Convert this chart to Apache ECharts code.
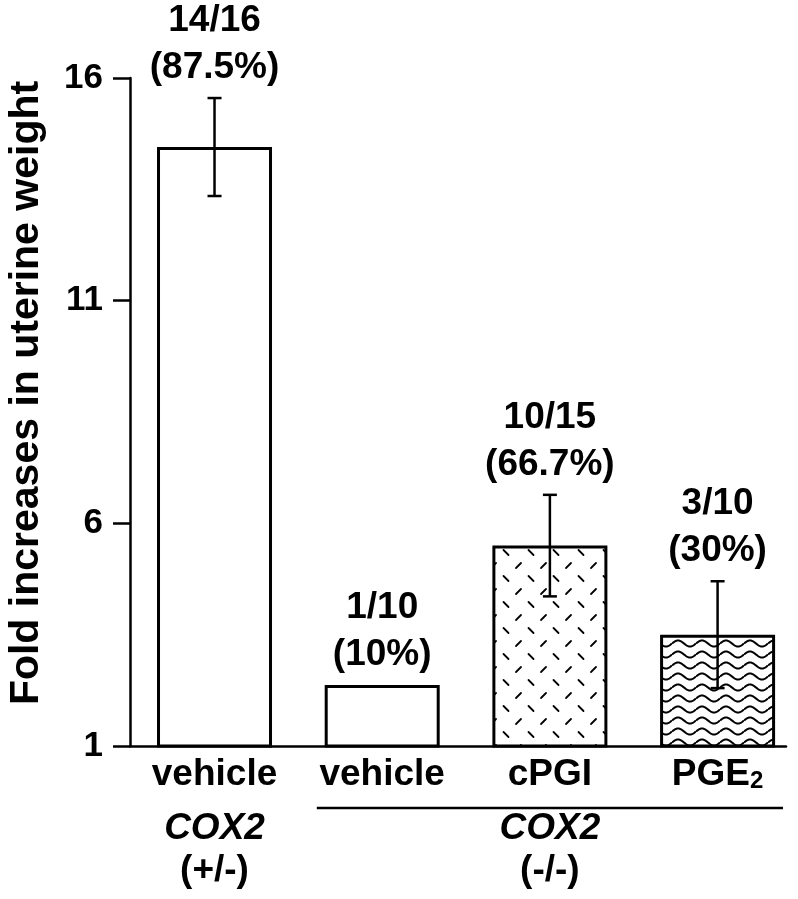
<!DOCTYPE html>
<html>
<head>
<meta charset="utf-8">
<script src="https://cdn.jsdelivr.net/npm/echarts@6/dist/echarts.min.js"></script>
<style>
html,body{margin:0;padding:0;background:#fff;}
#chart{width:798px;height:899px;}
</style>
</head>
<body>
<div id="chart"></div>
<script>
// ---- data ----
const categories = ['vehicle', 'vehicle', 'cPGI', 'PGE2'];
const means = [14.45, 2.37, 5.5, 3.5];
const errors = [1.1, null, 1.14, 1.2];
const counts = ['14/16', '1/10', '10/15', '3/10'];
const percents = ['(87.5%)', '(10%)', '(66.7%)', '(30%)'];
const groupPositions = [0, 2];
const groupLabels = ['(+/-)', '(-/-)'];
const groupGene = 'COX2';
const yTicks = [1, 6, 11, 16];
const yTitle = 'Fold increases in uterine weight';

const FONT = '"Liberation Sans", Arial, Helvetica, sans-serif';

function dashPattern() {
  const c = document.createElement('canvas');
  c.width = 25; c.height = 26;
  const g = c.getContext('2d');
  g.fillStyle = '#fff'; g.fillRect(0, 0, c.width, c.height);
  g.strokeStyle = '#000'; g.lineWidth = 1.8; g.lineCap = 'round';
  g.beginPath(); g.moveTo(3.5, 4); g.lineTo(8.5, 9); g.stroke();
  g.beginPath(); g.moveTo(16, 22); g.lineTo(21, 17); g.stroke();
  return c;
}
function wavePattern() {
  const c = document.createElement('canvas');
  c.width = 24; c.height = 11;
  const g = c.getContext('2d');
  g.fillStyle = '#fff'; g.fillRect(0, 0, c.width, c.height);
  g.strokeStyle = '#000'; g.lineWidth = 2;
  g.beginPath();
  for (let x = 0; x <= 24; x += 0.5) {
    const y = 5.5 - 3 * Math.sin(2 * Math.PI * x / 24);
    if (x === 0) g.moveTo(x, y); else g.lineTo(x, y);
  }
  g.stroke();
  return c;
}
const fills = ['#fff', '#fff',
  { image: dashPattern(), repeat: 'repeat' },
  { image: wavePattern(), repeat: 'repeat' }];

const chart = echarts.init(document.getElementById('chart'));

const X_MIN = -0.504, X_MAX = 3.408;

const option = {
  backgroundColor: '#fff',
  animation: false,
  grid: { left: 130, top: 78, width: 656, bottom: 153, containLabel: false, outerBoundsMode: 'none' },
  xAxis: [{
    type: 'value', min: X_MIN, max: X_MAX,
    axisLine: { show: true, onZero: false, lineStyle: { color: '#000', width: 2.5 } },
    axisTick: { show: false },
    splitLine: { show: false },
    axisLabel: {
      customValues: [0, 1, 2, 3],
      margin: 10,
      formatter: v => categories[Math.round(v)] === 'PGE2' ? '{n|PGE}{s|2}' : '{n|' + categories[Math.round(v)] + '}',
      rich: {
        n: { fontFamily: FONT, fontWeight: 'bold', fontSize: 37, color: '#000', lineHeight: 37 },
        s: { fontFamily: FONT, fontWeight: 'bold', fontSize: 24, color: '#000', lineHeight: 37, verticalAlign: 'bottom' }
      }
    }
  }, {
    type: 'value', min: X_MIN, max: X_MAX, position: 'bottom',
    axisLine: { show: false, onZero: false }, axisTick: { show: false }, splitLine: { show: false },
    axisLabel: {
      customValues: groupPositions,
      margin: 62,
      formatter: v => '{g|' + groupGene + '}\n{p|' + groupLabels[groupPositions.indexOf(Math.round(v))] + '}',
      rich: {
        g: { fontFamily: FONT, fontWeight: 'bold', fontStyle: 'italic', fontSize: 37, color: '#000', lineHeight: 42 },
        p: { fontFamily: FONT, fontWeight: 'bold', fontSize: 37, color: '#000', lineHeight: 42 }
      }
    }
  }],
  yAxis: {
    type: 'value', min: 1, max: 16, interval: 5,
    name: yTitle, nameLocation: 'middle', nameGap: 83, nameRotate: 90,
    nameTextStyle: { fontFamily: FONT, fontWeight: 'bold', fontSize: 41, color: '#000', padding: [0, 0, 0, 38] },
    axisLine: { show: true, onZero: false, lineStyle: { color: '#000', width: 2.5 } },
    axisTick: { show: true, inside: false, length: 17, lineStyle: { color: '#000', width: 2.5 } },
    splitLine: { show: false },
    axisLabel: { margin: 27, fontFamily: FONT, fontWeight: 'bold', fontSize: 35, color: '#000',
      formatter: v => yTicks.includes(v) ? String(v) : '' }
  },
  series: [{
    type: 'bar',
    xAxisIndex: 0,
    barWidth: 115,
    data: means.map((v, i) => ({ value: [i, v], itemStyle: { color: fills[i] } })),
    itemStyle: { borderColor: '#000', borderWidth: 3 },
    z: 2
  }, {
    type: 'custom',
    xAxisIndex: 0,
    z: 3,
    data: means.map((v, i) => [i, v, errors[i] == null ? 0 : errors[i]]),
    renderItem: function (params, api) {
      const i = api.value(0), m = api.value(1), e = api.value(2);
      const children = [];
      const cap = 7;
      let anchor;
      if (e > 0) {
        const top = api.coord([i, m + e]);
        const bot = api.coord([i, m - e]);
        const style = { stroke: '#000', lineWidth: 2.5 };
        children.push({ type: 'line', shape: { x1: top[0], y1: top[1], x2: bot[0], y2: bot[1] }, style });
        children.push({ type: 'line', shape: { x1: top[0] - cap, y1: top[1], x2: top[0] + cap, y2: top[1] }, style });
        children.push({ type: 'line', shape: { x1: bot[0] - cap, y1: bot[1], x2: bot[0] + cap, y2: bot[1] }, style });
        anchor = top;
      } else {
        anchor = api.coord([i, m]);
      }
      children.push({
        type: 'text',
        style: {
          text: counts[params.dataIndex] + '\n' + percents[params.dataIndex],
          x: anchor[0], y: anchor[1] - 7,
          align: 'center', verticalAlign: 'bottom',
          fontFamily: FONT, fontWeight: 'bold', fontSize: 37, lineHeight: 47, fill: '#000'
        }
      });
      return { type: 'group', children };
    }
  }]
};
chart.setOption(option);

// group bracket line under the COX2 (-/-) treatments
const p1 = chart.convertToPixel({ xAxisIndex: 0, yAxisIndex: 0 }, [0.61, 1]);
const p2 = chart.convertToPixel({ xAxisIndex: 0, yAxisIndex: 0 }, [3.39, 1]);
chart.setOption({
  graphic: [{
    type: 'line',
    shape: { x1: p1[0], y1: p1[1] + 62, x2: p2[0], y2: p2[1] + 62 },
    style: { stroke: '#000', lineWidth: 2.5 }
  }]
});
</script>
</body>
</html>
